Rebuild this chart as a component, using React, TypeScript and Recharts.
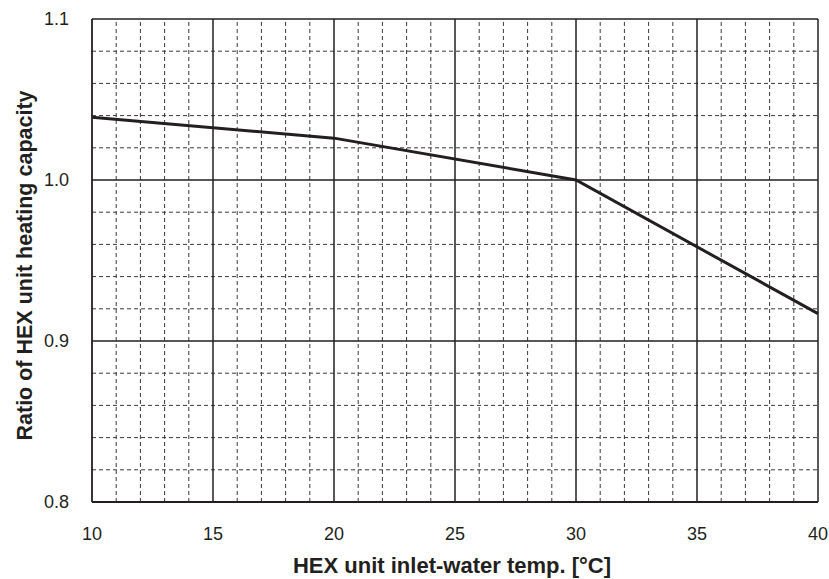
import React from 'react';
import { LineChart, Line, XAxis, YAxis, ReferenceLine, Label } from 'recharts';

const temps = [10, 20, 30, 40];
const ratios = [1.039, 1.026, 1.0, 0.917];
const xTicks = [10, 15, 20, 25, 30, 35, 40];
const yTicks = [0.8, 0.9, 1.0, 1.1];
const xMinor = [11, 12, 13, 14, 16, 17, 18, 19, 21, 22, 23, 24, 26, 27, 28, 29, 31, 32, 33, 34, 36, 37, 38, 39];
const yMinor = [0.82, 0.84, 0.86, 0.88, 0.92, 0.94, 0.96, 0.98, 1.02, 1.04, 1.06, 1.08];
const xTitle = 'HEX unit inlet-water temp. [°C]';
const yTitle = 'Ratio of HEX unit heating capacity';

const data = temps.map((t, i) => ({ t, r: ratios[i] }));
const INK = '#231f20';
const FONT = 'Liberation Sans, Arial, Helvetica, sans-serif';

export default function App() {
  return (
    <div style={{ position: 'absolute', left: 0, top: 0 }}>
      <LineChart width={829} height={579} data={data} margin={{ top: 19, right: 11, bottom: 0, left: 0 }}>
        <XAxis
          dataKey="t"
          type="number"
          domain={[10, 40]}
          ticks={xTicks}
          tickLine={false}
          tickSize={0}
          tickMargin={25}
          height={77}
          axisLine={{ stroke: INK, strokeWidth: 1.8 }}
          tick={{ fill: INK, fontSize: 18, fontFamily: FONT }}
        >
          <Label
            content={(p: any) => {
              const vb = p.viewBox;
              return (
                <text x={vb.x + vb.width / 2 - 3} y={vb.y + vb.height - 6} textAnchor="middle" fontFamily={FONT} fontWeight="bold" fontSize={22} fill={INK}>
                  {xTitle}
                </text>
              );
            }}
          />
        </XAxis>
        <YAxis
          type="number"
          domain={[0.8, 1.1]}
          ticks={yTicks}
          tickFormatter={(v: number) => v.toFixed(1)}
          tickLine={false}
          tickSize={0}
          tickMargin={23}
          width={92}
          axisLine={{ stroke: INK, strokeWidth: 1.8 }}
          tick={{ fill: INK, fontSize: 18, fontFamily: FONT }}
        >
          <Label
            content={(p: any) => {
              const vb = p.viewBox;
              const cx = vb.x + 32;
              const cy = vb.y + vb.height / 2 + 5;
              return (
                <text x={cx} y={cy} transform={`rotate(-90, ${cx}, ${cy})`} textAnchor="middle" fontFamily={FONT} fontWeight="bold" fontSize={21.5} fill={INK}>
                  {yTitle}
                </text>
              );
            }}
          />
        </YAxis>
        {xMinor.map((v) => (
          <ReferenceLine key={'xm' + v} x={v} stroke="#3a3a3a" strokeWidth={1} strokeDasharray="4 3" />
        ))}
        {yMinor.map((v) => (
          <ReferenceLine key={'ym' + v} y={v} stroke="#3a3a3a" strokeWidth={1} strokeDasharray="4 3" />
        ))}
        {xTicks.filter((v) => v !== 10).map((v) => (
          <ReferenceLine key={'xM' + v} x={v} stroke={INK} strokeWidth={1.5} />
        ))}
        {yTicks.filter((v) => v !== 0.8).map((v) => (
          <ReferenceLine key={'yM' + v} y={v} stroke={INK} strokeWidth={1.5} />
        ))}
        <Line type="linear" dataKey="r" stroke={INK} strokeWidth={3} dot={false} isAnimationActive={false} />
      </LineChart>
    </div>
  );
}
